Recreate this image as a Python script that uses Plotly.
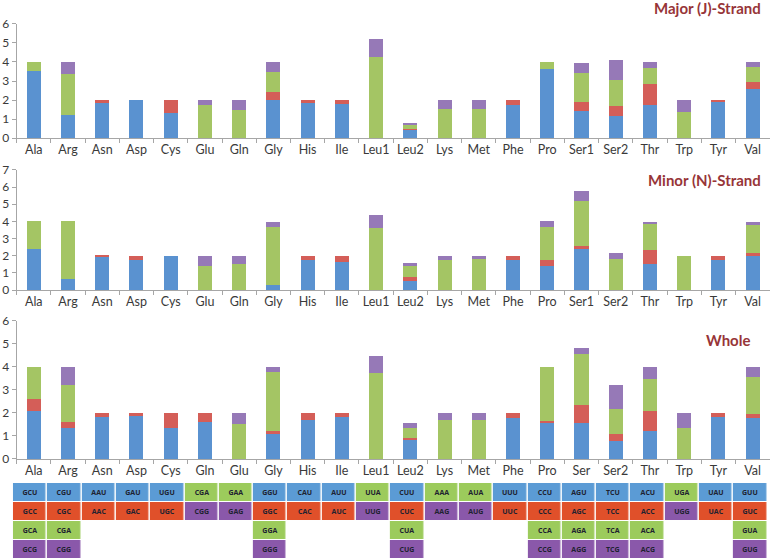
import plotly.graph_objects as go

# ---------------- data ----------------
cats_strand = ["Ala", "Arg", "Asn", "Asp", "Cys", "Glu", "Gln", "Gly", "His", "Ile", "Leu1",
               "Leu2", "Lys", "Met", "Phe", "Pro", "Ser1", "Ser2", "Thr", "Trp", "Tyr", "Val"]
cats_whole = ["Ala", "Arg", "Asn", "Asp", "Cys", "Gln", "Glu", "Gly", "His", "Ile", "Leu1",
              "Leu2", "Lys", "Met", "Phe", "Pro", "Ser", "Ser2", "Thr", "Trp", "Tyr", "Val"]

major_blue = [3.5, 1.23, 1.82, 2.0, 1.32, 0, 0, 2.0, 1.84, 1.81, 0, 0.44, 0, 0, 1.72, 3.65, 1.40, 1.16, 1.75, 0, 1.89, 2.58]
major_red = [0, 0, 0.18, 0, 0.68, 0, 0, 0.44, 0.16, 0.19, 0, 0.03, 0, 0, 0.28, 0, 0.51, 0.52, 1.07, 0, 0.11, 0.35]
major_green = [0.5, 2.16, 0, 0, 0, 1.74, 1.49, 1.05, 0, 0, 4.25, 0.23, 1.54, 1.53, 0, 0.35, 1.53, 1.36, 0.85, 1.35, 0, 0.79]
major_purple = [0, 0.61, 0, 0, 0, 0.26, 0.51, 0.51, 0, 0, 0.96, 0.09, 0.46, 0.47, 0, 0, 0.51, 1.05, 0.33, 0.65, 0, 0.30]

minor_blue = [2.4, 0.64, 1.93, 1.75, 2.0, 0, 0, 0.29, 1.73, 1.65, 0, 0.53, 0, 0, 1.73, 1.42, 2.37, 0, 1.52, 0, 1.73, 1.98]
minor_red = [0, 0, 0.07, 0.25, 0, 0, 0, 0, 0.27, 0.35, 0, 0.25, 0, 0, 0.27, 0.33, 0.2, 0, 0.81, 0, 0.27, 0.2]
minor_green = [1.6, 3.36, 0, 0, 0, 1.40, 1.52, 3.39, 0, 0, 3.62, 0.62, 1.73, 1.81, 0, 1.93, 2.61, 1.81, 1.54, 2.0, 0, 1.59]
minor_purple = [0, 0, 0, 0, 0, 0.60, 0.48, 0.31, 0, 0, 0.78, 0.2, 0.27, 0.19, 0, 0.32, 0.62, 0.37, 0.12, 0, 0, 0.22]

whole_blue = [2.09, 1.35, 1.81, 1.87, 1.33, 1.59, 0, 1.09, 1.68, 1.84, 0, 0.81, 0, 0, 1.77, 1.57, 1.57, 0.78, 1.2, 0, 1.83, 1.78]
whole_red = [0.52, 0.26, 0.19, 0.13, 0.67, 0.41, 0, 0.11, 0.32, 0.16, 0, 0.10, 0, 0, 0.23, 0.08, 0.78, 0.31, 0.89, 0, 0.17, 0.19]
whole_green = [1.40, 1.61, 0, 0, 0, 0, 1.51, 2.57, 0, 0, 3.74, 0.42, 1.70, 1.70, 0, 2.35, 2.22, 1.08, 1.4, 1.36, 0, 1.6]
whole_purple = [0, 0.79, 0, 0, 0, 0, 0.49, 0.24, 0, 0, 0.75, 0.24, 0.3, 0.3, 0, 0, 0.26, 1.03, 0.52, 0.64, 0, 0.44]

# codon table (rows top->bottom); colour codes 0=blue,1=red,2=green,3=purple
codon_row1 = ["GCU", "CGU", "AAU", "GAU", "UGU", "CGA", "GAA", "GGU", "CAU", "AUU", "UUA",
              "CUU", "AAA", "AUA", "UUU", "CCU", "AGU", "TCU", "ACU", "UGA", "UAU", "GUU"]
codon_row2 = ["GCC", "CGC", "AAC", "GAC", "UGC", "CGG", "GAG", "GGC", "CAC", "AUC", "UUG",
              "CUC", "AAG", "AUG", "UUC", "CCC", "AGC", "TCC", "ACC", "UGG", "UAC", "GUC"]
codon_row3 = ["GCA", "CGA", "", "", "", "", "", "GGA", "", "", "",
              "CUA", "", "", "", "CCA", "AGA", "TCA", "ACA", "", "", "GUA"]
codon_row4 = ["GCG", "CGG", "", "", "", "", "", "GGG", "", "", "",
              "CUG", "", "", "", "CCG", "AGG", "TCG", "ACG", "", "", "GUG"]
color_row1 = [0, 0, 0, 0, 0, 2, 2, 0, 0, 0, 2, 0, 2, 2, 0, 0, 0, 0, 0, 2, 0, 0]
color_row2 = [1, 1, 1, 1, 1, 3, 3, 1, 1, 1, 3, 1, 3, 3, 1, 1, 1, 1, 1, 3, 1, 1]
color_row3 = [2, 2, None, None, None, None, None, 2, None, None, None,
              2, None, None, None, 2, 2, 2, 2, None, None, 2]
color_row4 = [3, 3, None, None, None, None, None, 3, None, None, None,
              3, None, None, None, 3, 3, 3, 3, None, None, 3]

panel_titles = ["Major (J)-Strand", "Minor (N)-Strand", "Whole"]

# ---------------- style ----------------
FONT = "Lato, 'Open Sans', sans-serif"
BAR_COLORS = ["#5A92D0", "#D45E58", "#A4C564", "#9679B7"]
TABLE_COLORS = ["#5B9BD5", "#E0502A", "#9CCB5C", "#8A58AA"]
TITLE_COLOR = "#973538"
AXIS_COLOR = "#A6A6A6"
TEXT_COLOR = "#3A3A3A"

fig = go.Figure()

panels = [
    (cats_strand, [major_blue, major_red, major_green, major_purple], "x", "y"),
    (cats_strand, [minor_blue, minor_red, minor_green, minor_purple], "x2", "y2"),
    (cats_whole, [whole_blue, whole_red, whole_green, whole_purple], "x3", "y3"),
]
for cats, series, xa, ya in panels:
    for vals, col in zip(series, BAR_COLORS):
        fig.add_trace(go.Bar(x=cats, y=vals, xaxis=xa, yaxis=ya,
                             marker=dict(color=col, line=dict(width=0)),
                             width=0.41, showlegend=False, hoverinfo="x+y"))

# codon table as heatmap
z = [color_row1, color_row2, color_row3, color_row4]
txt = [codon_row1, codon_row2, codon_row3, codon_row4]
cs = [[0, TABLE_COLORS[0]], [0.25, TABLE_COLORS[0]], [0.25, TABLE_COLORS[1]], [0.5, TABLE_COLORS[1]],
      [0.5, TABLE_COLORS[2]], [0.75, TABLE_COLORS[2]], [0.75, TABLE_COLORS[3]], [1, TABLE_COLORS[3]]]
fig.add_trace(go.Heatmap(z=z, x=cats_whole, y=[0, 1, 2, 3], text=txt, texttemplate="<b>%{text}</b>",
                         textfont=dict(size=7, color="#1E2230", family="'Open Sans', sans-serif"),
                         colorscale=cs, zmin=0, zmax=3, showscale=False, xgap=1.5, ygap=1,
                         xaxis="x4", yaxis="y4", hoverinfo="skip"))

xdom = [0.0216, 0.9997]
ydoms = [[0.7531, 0.9571], [0.4812, 0.6959], [0.1789, 0.4258]]
yranges = [[0, 6], [0, 7], [0, 6]]

layout = dict(
    width=770, height=559, margin=dict(l=0, r=0, t=0, b=0, autoexpand=False),
    paper_bgcolor="white", plot_bgcolor="white",
    barmode="stack", showlegend=False,
    font=dict(family=FONT, color=TEXT_COLOR, size=12),
)
for i in range(3):
    sfx = "" if i == 0 else str(i + 1)
    layout["xaxis" + sfx] = dict(
        domain=xdom, anchor="y" + sfx, type="category", range=[-0.5, 21.5],
        showline=True, linecolor=AXIS_COLOR, linewidth=1, tickangle=0, automargin=False,
        ticks="outside", tickson="boundaries", ticklen=4, tickcolor=AXIS_COLOR,
        tickfont=dict(size=12.5, color=TEXT_COLOR), showgrid=False, zeroline=False, fixedrange=True)
    layout["yaxis" + sfx] = dict(
        domain=ydoms[i], anchor="x" + sfx, range=yranges[i], dtick=1, automargin=False,
        showline=True, linecolor=AXIS_COLOR, linewidth=1,
        ticks="outside", ticklen=4, tickcolor=AXIS_COLOR,
        tickfont=dict(size=12, color=TEXT_COLOR), showgrid=False, zeroline=False, fixedrange=True)

layout["xaxis4"] = dict(domain=[12.85 / 770, 767.45 / 770], anchor="y4", type="category",
                        range=[-0.5, 21.5], visible=False, fixedrange=True, automargin=False)
layout["yaxis4"] = dict(domain=[0, 1 - 483 / 559], anchor="x4", range=[3.5, -0.5],
                        visible=False, fixedrange=True, automargin=False)

title_pos = [(763 / 770, 1 - 7.5 / 559), (763 / 770, 1 - 180 / 559), (752 / 770, 1 - 340 / 559)]
layout["annotations"] = [
    dict(text="<b>%s</b>" % t, x=px, y=py, xref="paper", yref="paper",
         xanchor="right", yanchor="middle", showarrow=False,
         font=dict(size=15, color=TITLE_COLOR, family=FONT))
    for t, (px, py) in zip(panel_titles, title_pos)
]

fig.update_layout(**layout)
fig.write_html("out.html", config={"displayModeBar": False},
               post_script="document.body.style.margin='0';document.body.style.padding='0';"
                           "document.body.style.overflow='hidden';"
                           "document.documentElement.style.overflow='hidden';")
